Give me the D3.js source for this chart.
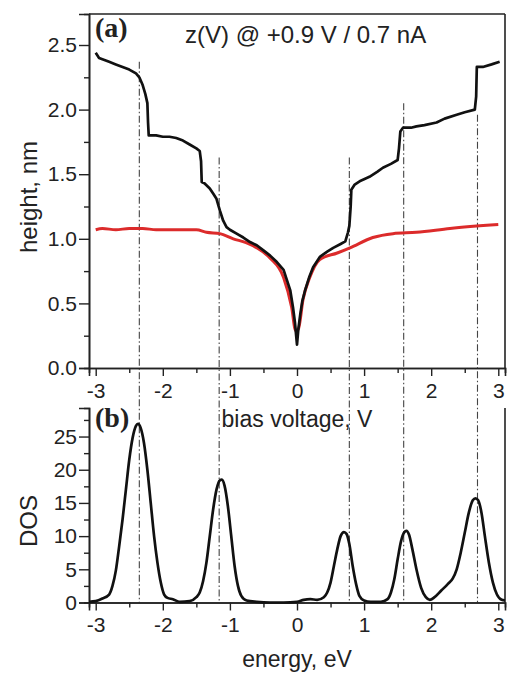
<!DOCTYPE html>
<html><head><meta charset="utf-8">
<script src="https://cdn.jsdelivr.net/npm/d3@7/dist/d3.min.js"></script>
<style>
html,body{margin:0;padding:0;background:#fff;}
svg{display:block;}
text{font-family:"Liberation Sans",Arial,sans-serif;fill:#222;}
</style></head>
<body>
<script>
// ---- data ----
const biasBlack = [-3.00,-2.95,-2.90,-2.80,-2.70,-2.60,-2.50,-2.40,-2.35,-2.30,-2.26,-2.23,-2.22,-2.21,-2.10,-2.00,-1.90,-1.80,-1.70,-1.60,-1.50,-1.45,-1.43,-1.42,-1.38,-1.30,-1.25,-1.20,-1.15,-1.10,-1.05,-1.00,-0.90,-0.80,-0.70,-0.60,-0.50,-0.40,-0.30,-0.20,-0.15,-0.10,-0.06,-0.03,0.00,0.02,0.05,0.08,0.12,0.18,0.24,0.34,0.45,0.54,0.65,0.72,0.76,0.78,0.80,0.81,0.86,0.95,1.08,1.20,1.28,1.40,1.50,1.52,1.54,1.58,1.70,1.78,1.90,2.08,2.20,2.38,2.50,2.65,2.67,2.68,2.77,2.90,3.02];
const heightBlack = [2.44,2.40,2.39,2.37,2.35,2.33,2.31,2.28,2.25,2.19,2.12,2.05,1.90,1.80,1.80,1.79,1.79,1.78,1.76,1.73,1.70,1.68,1.60,1.44,1.43,1.39,1.35,1.31,1.22,1.14,1.09,1.07,1.04,1.01,0.975,0.95,0.91,0.87,0.82,0.76,0.68,0.60,0.47,0.35,0.18,0.30,0.42,0.52,0.60,0.70,0.78,0.86,0.90,0.93,0.96,0.98,1.05,1.10,1.25,1.38,1.42,1.45,1.48,1.52,1.55,1.58,1.61,1.70,1.83,1.86,1.86,1.87,1.88,1.90,1.93,1.96,1.98,2.00,2.10,2.33,2.33,2.35,2.37];
const biasRed = [-3.00,-2.90,-2.70,-2.50,-2.30,-2.10,-1.90,-1.70,-1.50,-1.35,-1.15,-0.95,-0.76,-0.60,-0.40,-0.20,-0.08,-0.02,0.02,0.09,0.19,0.34,0.60,0.79,1.13,1.43,1.78,2.28,3.00];
const heightRed = [1.07,1.08,1.07,1.08,1.08,1.07,1.07,1.07,1.07,1.05,1.04,1.00,0.97,0.93,0.85,0.70,0.47,0.29,0.30,0.53,0.70,0.84,0.89,0.93,1.01,1.04,1.05,1.08,1.11];
const energy = [-3.10,-3.00,-2.90,-2.80,-2.75,-2.70,-2.65,-2.60,-2.55,-2.50,-2.45,-2.40,-2.37,-2.33,-2.28,-2.23,-2.18,-2.13,-2.08,-2.03,-1.98,-1.93,-1.85,-1.75,-1.60,-1.50,-1.45,-1.40,-1.35,-1.30,-1.25,-1.20,-1.15,-1.12,-1.08,-1.03,-0.98,-0.93,-0.88,-0.83,-0.75,-0.60,-0.40,-0.20,0.00,0.10,0.20,0.30,0.40,0.45,0.50,0.55,0.60,0.65,0.70,0.74,0.78,0.83,0.88,0.93,1.00,1.10,1.25,1.35,1.40,1.45,1.50,1.55,1.60,1.63,1.67,1.72,1.78,1.85,1.92,1.98,2.05,2.15,2.25,2.32,2.38,2.44,2.50,2.56,2.62,2.66,2.70,2.75,2.80,2.86,2.92,2.98,3.05,3.10];
const dos = [0.1,0.2,0.6,1.2,2.5,4.8,8.5,12.5,17.0,21.5,24.8,26.6,26.9,26.3,24.0,20.0,15.0,10.0,6.0,3.0,1.2,0.7,0.5,0.1,0.2,0.8,1.5,3.2,6.0,10.0,14.0,17.0,18.4,18.5,17.6,14.5,10.0,5.5,2.5,1.0,0.3,0.1,0.0,0.0,0.1,0.4,0.5,0.4,0.8,1.5,3.0,5.5,8.0,10.0,10.6,10.3,8.8,5.5,2.8,1.0,0.3,0.1,0.1,0.5,1.5,3.5,6.5,9.2,10.6,10.8,10.2,8.0,5.0,2.2,0.8,0.4,0.8,1.8,2.8,3.6,5.0,7.5,10.5,13.5,15.4,15.7,15.4,13.5,10.0,6.0,3.0,1.2,0.4,0.3];
const levelPos = [-2.35,-1.16,0.78,1.59,2.69];
const levelTop = [2.37,1.63,1.63,2.05,1.96];
const xTicks = [-3,-2,-1,0,1,2,3];
const xTickLabels = ["-3","-2","-1","0","1","2","3"];
const xMinor = [-2.5,-1.5,-0.5,0.5,1.5,2.5];
const hTicks = [0.0,0.5,1.0,1.5,2.0,2.5];
const hTickLabels = ["0.0","0.5","1.0","1.5","2.0","2.5"];
const hMinor = [0.25,0.75,1.25,1.75,2.25];
const dosTicks = [0,5,10,15,20,25];
const dosTickLabels = ["0","5","10","15","20","25"];
const dosMinor = [2.5,7.5,12.5,17.5,22.5,27.5];
const titleText = "z(V) @ +0.9 V / 0.7 nA";

// ---- layout ----
const W = 509, H = 675;
const L = 89, R = 505;
const aTop = 14, aBot = 368;
const bTop = 408, bBot = 602.5;

const svg = d3.select("body").append("svg").attr("width", W).attr("height", H);

const x = d3.scaleLinear().domain([-3.1, 3.1]).range([L, R]);
const yA = d3.scaleLinear().domain([0, 2.74]).range([aBot, aTop]);
const yB = d3.scaleLinear().domain([0, 29.3]).range([bBot, bTop]);

const axisColor = "#222";
function styleAxis(g, fs){
  g.selectAll("path.domain").attr("stroke", axisColor).attr("stroke-width", 1.6);
  g.selectAll(".tick line").attr("stroke", axisColor).attr("stroke-width", 1.4);
  g.selectAll(".tick text").attr("fill", "#222").attr("font-size", fs)
    .attr("font-family", '"Liberation Sans", Arial, sans-serif');
}
const fmtFrom = (vals, labels) => d => labels[vals.indexOf(d)];

// dash-dot level lines
const lvl = svg.append("g");
levelPos.forEach((v, i) => {
  lvl.append("line")
    .attr("x1", x(v)).attr("x2", x(v))
    .attr("y1", yA(levelTop[i])).attr("y2", yB(0))
    .attr("stroke", "#444").attr("stroke-width", 1.1)
    .attr("stroke-dasharray", "7,2.5,1.5,2.5");
});

// ---- panel (a) ----
svg.append("line").attr("x1", L).attr("x2", R).attr("y1", aTop).attr("y2", aTop)
  .attr("stroke", axisColor).attr("stroke-width", 1.6);
svg.append("line").attr("x1", R).attr("x2", R).attr("y1", aTop).attr("y2", aBot)
  .attr("stroke", axisColor).attr("stroke-width", 1.6);

const gAxM = svg.append("g").attr("transform", `translate(0,${aBot})`)
  .call(d3.axisBottom(x).tickValues(xMinor).tickSize(5).tickFormat(""));
styleAxis(gAxM, 21);
const gAx = svg.append("g").attr("transform", `translate(0,${aBot})`)
  .call(d3.axisBottom(x).tickValues(xTicks).tickSize(8).tickPadding(7).tickFormat(fmtFrom(xTicks, xTickLabels)));
styleAxis(gAx, 21);

const gAyM = svg.append("g").attr("transform", `translate(${L},0)`)
  .call(d3.axisLeft(yA).tickValues(hMinor).tickSize(5).tickFormat(""));
styleAxis(gAyM, 21);
const gAy = svg.append("g").attr("transform", `translate(${L},0)`)
  .call(d3.axisLeft(yA).tickValues(hTicks).tickSize(10).tickPadding(2).tickFormat(fmtFrom(hTicks, hTickLabels)));
styleAxis(gAy, 21);

svg.append("path").datum(d3.zip(biasRed, heightRed))
  .attr("d", d3.line().x(d => x(d[0])).y(d => yA(d[1])).curve(d3.curveMonotoneX)).attr("fill", "none")
  .attr("stroke", "#dc2b2b").attr("stroke-width", 3).attr("stroke-linejoin", "round");
svg.append("path").datum(d3.zip(biasBlack, heightBlack))
  .attr("d", d3.line().x(d => x(d[0])).y(d => yA(d[1]))).attr("fill", "none")
  .attr("stroke", "#111").attr("stroke-width", 2.7).attr("stroke-linejoin", "round");

svg.append("text").attr("x", 95).attr("y", 37)
  .style("font-family", '"Liberation Serif","Times New Roman",serif')
  .attr("font-weight", "bold").attr("font-size", 28).text("(a)");
svg.append("text").attr("x", 185).attr("y", 43).attr("font-size", 24).text(titleText);

svg.append("text").attr("transform", `translate(37,${197}) rotate(-90)`)
  .attr("text-anchor", "middle").attr("font-size", 24).text("height, nm");
svg.append("text").attr("x", x(0)).attr("y", 427)
  .attr("text-anchor", "middle").attr("font-size", 23).text("bias voltage, V");

// ---- panel (b) ----
svg.append("line").attr("x1", R).attr("x2", R).attr("y1", bTop).attr("y2", bBot)
  .attr("stroke", axisColor).attr("stroke-width", 1.6);

const gBxM = svg.append("g").attr("transform", `translate(0,${bBot})`)
  .call(d3.axisBottom(x).tickValues(xMinor).tickSize(5).tickFormat(""));
styleAxis(gBxM, 21);
const gBx = svg.append("g").attr("transform", `translate(0,${bBot})`)
  .call(d3.axisBottom(x).tickValues(xTicks).tickSize(8).tickPadding(7).tickFormat(fmtFrom(xTicks, xTickLabels)));
styleAxis(gBx, 21);

const gByM = svg.append("g").attr("transform", `translate(${L},0)`)
  .call(d3.axisLeft(yB).tickValues(dosMinor).tickSize(5).tickFormat(""));
styleAxis(gByM, 21);
const gBy = svg.append("g").attr("transform", `translate(${L},0)`)
  .call(d3.axisLeft(yB).tickValues(dosTicks).tickSize(10).tickPadding(2).tickFormat(fmtFrom(dosTicks, dosTickLabels)));
styleAxis(gBy, 21);

svg.append("path").datum(d3.zip(energy, dos))
  .attr("d", d3.line().x(d => x(d[0])).y(d => yB(d[1])).curve(d3.curveMonotoneX))
  .attr("fill", "none").attr("stroke", "#111").attr("stroke-width", 2.7);

svg.append("text").attr("x", 95).attr("y", 427)
  .style("font-family", '"Liberation Serif","Times New Roman",serif')
  .attr("font-weight", "bold").attr("font-size", 28).text("(b)");
svg.append("text").attr("transform", `translate(37,${521}) rotate(-90)`)
  .attr("text-anchor", "middle").attr("font-size", 24).text("DOS");
svg.append("text").attr("x", x(0)).attr("y", 667)
  .attr("text-anchor", "middle").attr("font-size", 23).text("energy, eV");
</script>
</body></html>
